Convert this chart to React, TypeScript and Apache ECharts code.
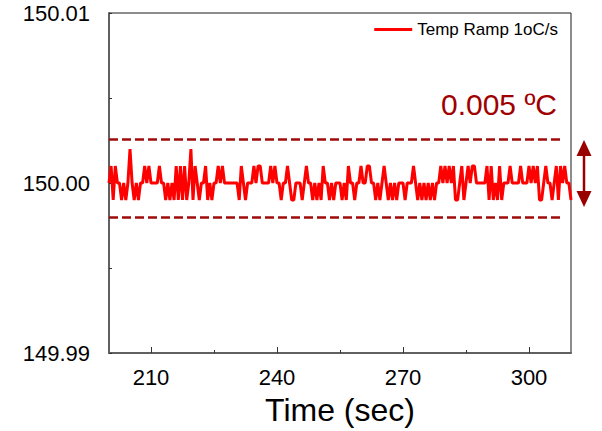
import React, { useEffect, useRef } from 'react';
import * as echarts from 'echarts';

const FONT = '"Liberation Sans", Arial, sans-serif';

const seriesName = 'Temp Ramp 1oC/s';
const baseTemp = 150;
const startTime = 200;
const sampleStep = 0.5;
// deviation from 150 °C in units of 0.001 °C, one sample every 0.5 s from 200 s to 310 s
const tempOffsetMilli = [
  0, 1, -1, 1, 0, 0, -1, 0, -1, 0,
  2, 0, -1, 0, -1, 0, 0, 1, 0, 1,
  0, 0, 0, 0, 1, 0, 0, -1, 0, -1,
  0, -1, 1, -1, 1, -1, 1, -1, 0, 2,
  -1, 1, 0, -1, 0, 0, 1, -1, 0, -1,
  0, 0, 1, 0, 1, 0, 0, 0, 0, 0,
  0, 0, -1, 1, 0, -1, 0, 0, 0, 1,
  0, 1, 1, 0, 0, 0, 0, 1, 0, 1,
  0, 0, -1, 0, 0, 1, 0, -1, -1, 0,
  0, 0, -1, 0, 1, 0, 0, -1, 0, -1,
  0, -1, 1, 0, 0, -1, 0, -1, 0, 0,
  0, -1, 0, -1, 1, 0, 0, -1, 0, 0,
  1, 0, 0, 1, 1, 0, 0, -1, 0, -1,
  0, 1, 0, -1, 0, -1, 0, -1, 0, 0,
  0, -1, 0, 0, 0, 1, 0, -1, 0, -1,
  0, -1, 0, -1, 0, -1, 0, 0, 1, 0,
  1, 0, 1, 0, 1, -1, -1, 0, 1, -1,
  0, 1, 0, 1, 1, 0, 0, 0, 0, 0,
  1, -1, 1, -1, 0, -1, 1, -1, 0, 0,
  0, 1, 0, 0, 0, 0, 1, 0, 0, 0,
  1, 0, 1, 0, 1, -1, -1, 0, 1, 0,
  0, -1, 0, 1, -1, 1, 0, 1, 0, 0,
  -1,
];

const xMin = 200;
const xMax = 310;
const xLabelTicks = [210, 240, 270, 300];
const xMinorTicks = [225, 255, 285];
const yMin = 149.99;
const yMax = 150.01;
const yInterval = 0.005;

const bandUpper = 150.0026;
const bandLower = 149.998;
const bandStart = 200;
const bandEnd = 307.6;
const bandText = '0.005 ºC';

export default function App() {
  const ref = useRef<HTMLDivElement>(null);
  useEffect(() => {
    const chart = echarts.init(ref.current!, null, { renderer: 'svg' });
    const data = tempOffsetMilli.map((d, i) => [
      startTime + i * sampleStep,
      +(baseTemp + d / 1000).toFixed(4),
    ]);
    const dark = '#9e0b0b';
    chart.setOption({
      animation: false,
      grid: {
        left: 109,
        right: 31,
        top: 13,
        bottom: 78,
        show: true,
        borderColor: '#1a1a1a',
        borderWidth: 1,
        backgroundColor: 'transparent',
      },
      legend: {
        right: 39,
        top: 16,
        icon: 'rect',
        itemWidth: 38,
        itemHeight: 3,
        itemGap: 5,
        data: [seriesName],
        textStyle: { fontSize: 17, color: '#000', fontFamily: FONT },
      },
      xAxis: [
        {
          type: 'value',
          min: xMin,
          max: xMax,
          position: 'bottom',
          axisLine: { show: true, lineStyle: { color: '#606060', width: 2 } },
          splitLine: { show: false },
          axisTick: {
            show: true,
            inside: true,
            length: 6,
            customValues: xLabelTicks,
            lineStyle: { color: '#333', width: 1 },
          },
          axisLabel: {
            customValues: xLabelTicks,
            margin: 13,
            fontSize: 22,
            color: '#000',
            fontFamily: FONT,
          },
          name: 'Time (sec)',
          nameLocation: 'middle',
          nameGap: 41,
          nameTextStyle: { fontSize: 32, color: '#000', fontFamily: FONT },
        },
        {
          type: 'value',
          min: xMin,
          max: xMax,
          position: 'bottom',
          axisLine: { show: false },
          splitLine: { show: false },
          axisLabel: { show: false },
          axisTick: {
            show: true,
            inside: true,
            length: 3,
            customValues: xMinorTicks,
            lineStyle: { color: '#333', width: 1 },
          },
        },
      ],
      yAxis: {
        type: 'value',
        min: yMin,
        max: yMax,
        interval: yInterval,
        axisLine: { show: true, lineStyle: { color: '#606060', width: 2 } },
        splitLine: { show: false },
        axisTick: { show: true, inside: true, length: 3, lineStyle: { color: '#333', width: 1 } },
        axisLabel: {
          margin: 19,
          fontSize: 22,
          color: '#000',
          fontFamily: FONT,
          formatter: (v: number) => {
            const r = Math.round(v * 200);
            return r % 2 === 0 ? v.toFixed(2) : '';
          },
        },
      },
      series: [
        {
          type: 'line',
          name: seriesName,
          xAxisIndex: 0,
          data,
          symbol: 'none',
          lineStyle: { color: '#ff0000', width: 3 },
          itemStyle: { color: '#ff0000' },
          markLine: {
            silent: true,
            symbol: ['none', 'none'],
            label: { show: false },
            lineStyle: { color: dark, type: [9, 4], width: 2.5, opacity: 1 },
            data: [
              [{ coord: [bandStart, bandUpper] }, { coord: [bandEnd, bandUpper] }],
              [{ coord: [bandStart, bandLower] }, { coord: [bandEnd, bandLower] }],
            ],
          },
        },
      ],
      graphic: [
        {
          type: 'text',
          x: 557,
          y: 104,
          style: {
            text: bandText,
            fill: '#a00000',
            fontSize: 30,
            fontFamily: FONT,
            align: 'right',
            verticalAlign: 'middle',
          },
        },
        {
          type: 'line',
          shape: { x1: 584, y1: 152, x2: 584, y2: 195 },
          style: { stroke: '#990000', lineWidth: 2.5 },
        },
        {
          type: 'polygon',
          shape: { points: [[584, 140], [576.5, 156], [591.5, 156]] },
          style: { fill: '#990000' },
        },
        {
          type: 'polygon',
          shape: { points: [[584, 207], [576.5, 191], [591.5, 191]] },
          style: { fill: '#990000' },
        },
      ],
    });
    return () => chart.dispose();
  }, []);
  return (
    <div
      ref={ref}
      style={{ position: 'fixed', left: 0, top: 0, width: 602, height: 431, background: '#fff' }}
    />
  );
}
